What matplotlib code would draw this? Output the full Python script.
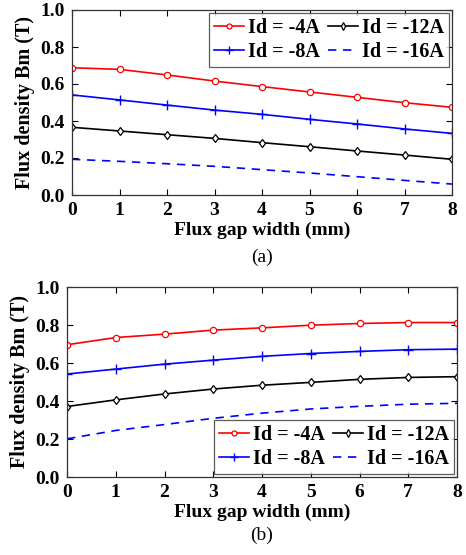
import matplotlib

matplotlib.use("Agg")
import matplotlib.pyplot as plt

# Flux gap width (mm)
gap = [0, 1, 2, 3, 4, 5, 6, 7, 8]

# (a) flux density Bm (T) vs gap width
bm_a_4 = [0.688, 0.679, 0.649, 0.616, 0.586, 0.557, 0.528, 0.499, 0.474]
bm_a_8 = [0.541, 0.514, 0.486, 0.459, 0.436, 0.409, 0.384, 0.357, 0.333]
bm_a_12 = [0.366, 0.346, 0.326, 0.306, 0.283, 0.261, 0.238, 0.216, 0.193]
bm_a_16 = [0.193, 0.182, 0.169, 0.155, 0.137, 0.119, 0.099, 0.079, 0.059]

# (b) flux density Bm (T) vs gap width
bm_b_4 = [0.696, 0.734, 0.752, 0.773, 0.785, 0.799, 0.808, 0.813, 0.813]
bm_b_8 = [0.542, 0.568, 0.594, 0.615, 0.635, 0.650, 0.661, 0.670, 0.673]
bm_b_12 = [0.371, 0.406, 0.437, 0.463, 0.483, 0.498, 0.514, 0.524, 0.528]
bm_b_16 = [0.201, 0.245, 0.276, 0.309, 0.336, 0.358, 0.372, 0.383, 0.388]

labels = ["Id = -4A", "Id = -8A", "Id = -12A", "Id = -16A"]
y_ticks = [0.0, 0.2, 0.4, 0.6, 0.8, 1.0]

plt.rcParams["font.family"] = ["Liberation Serif", "DejaVu Serif"]
plt.rcParams["font.weight"] = "bold"

W, H = 466, 555
fig = plt.figure(figsize=(W / 100, H / 100), dpi=100)


def panel(rect, series, legend_loc, tag, tag_y):
    ax = fig.add_axes(rect)
    s4, s8, s12, s16 = series
    l4, = ax.plot(gap, s4, color="red", lw=1.2, marker="o", ms=4.5,
                  mfc="white", mec="red", mew=0.9)
    l8, = ax.plot(gap, s8, color="blue", lw=1.2, marker="+", ms=7, mew=1.0)
    l12, = ax.plot(gap, s12, color="black", lw=1.2, marker="d", ms=4.5,
                   mfc="white", mec="black", mew=0.9)
    l16, = ax.plot(gap, s16, color="blue", lw=1.2, ls=(0, (5, 4)))
    ax.set_xlim(0, 8)
    ax.set_ylim(0, 1.0)
    ax.set_xticks(gap)
    ax.set_yticks(y_ticks)
    ax.set_yticklabels([f"{v:.1f}" for v in y_ticks])
    ax.tick_params(direction="in", top=True, right=True, labelsize=14,
                   length=4, width=0.8, pad=5)
    for sp in ax.spines.values():
        sp.set_linewidth(0.9)
        sp.set_color("#333333")
    ax.set_xlabel("Flux gap width (mm)", fontsize=14, fontweight="bold", labelpad=2)
    ax.set_ylabel("Flux density Bm (T)", fontsize=14.5, fontweight="bold", labelpad=4)
    leg = ax.legend([l4, l8, l12, l16], labels,
                    ncol=2, loc=legend_loc, fontsize=14.5, frameon=True,
                    fancybox=False, edgecolor="#333333", borderpad=0.25,
                    handlelength=1.5, handletextpad=0.2, columnspacing=0.4,
                    labelspacing=0.2, borderaxespad=0.15, markerscale=0.8)
    leg.get_frame().set_linewidth(0.9)
    fig.text(rect[0] + rect[2] / 2, tag_y, tag, ha="center", va="center",
             fontsize=14, fontweight="normal")
    return ax


panel([72 / W, 1 - 195 / H, 380 / W, 185 / H],
      (bm_a_4, bm_a_8, bm_a_12, bm_a_16), "upper right", "(a)", 1 - 257 / H)
panel([67 / W, 1 - 477 / H, 390 / W, 190 / H],
      (bm_b_4, bm_b_8, bm_b_12, bm_b_16), "lower right", "(b)", 1 - 535 / H)

fig.savefig("out.png", dpi=100)
